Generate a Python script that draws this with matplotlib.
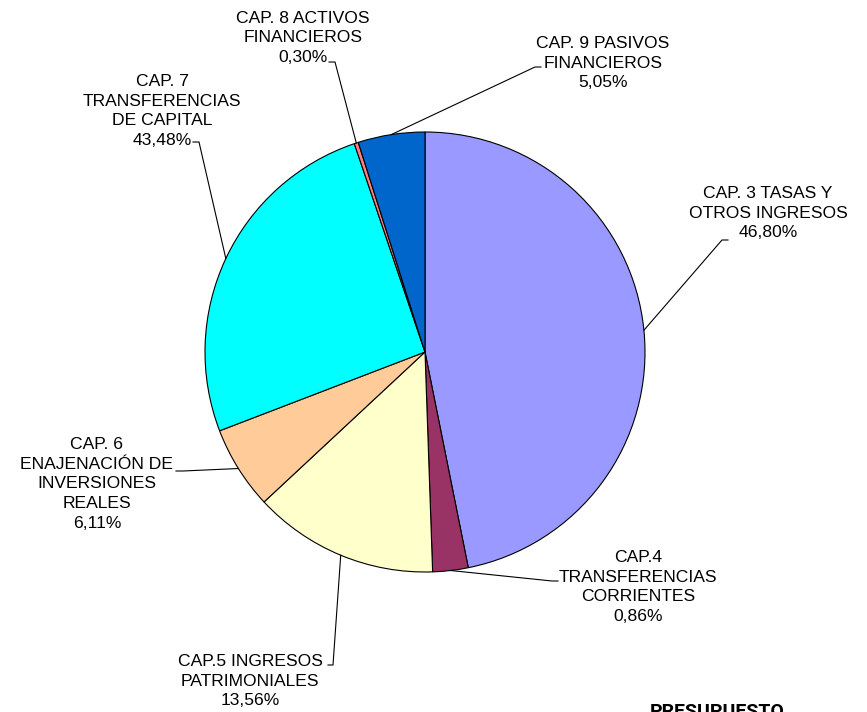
import numpy as np
import matplotlib.pyplot as plt

plt.rcParams['font.family'] = ['Liberation Sans', 'DejaVu Sans']

# etiquetas (texto tal como aparece) y tamaño visual de cada porción
etiquetas = [
    "CAP. 3 TASAS Y\nOTROS INGRESOS\n46,80%",
    "CAP.4\nTRANSFERENCIAS\nCORRIENTES\n0,86%",
    "CAP.5 INGRESOS\nPATRIMONIALES\n13,56%",
    "CAP. 6\nENAJENACIÓN DE\nINVERSIONES\nREALES\n6,11%",
    "CAP. 7\nTRANSFERENCIAS\nDE CAPITAL\n43,48%",
    "CAP. 8 ACTIVOS\nFINANCIEROS\n0,30%",
    "CAP. 9 PASIVOS\nFINANCIEROS\n5,05%",
]
porciones = [46.8, 2.6, 13.6, 6.1, 25.6, 0.3, 4.9]
colores = ["#9999FF", "#993366", "#FFFFCC", "#FFCC99", "#00FFFF", "#FF8080", "#0066CC"]

W, H = 867, 712
centro = (425, H - 352)
radio = 220

# posiciones de texto y codo de la línea guía (en píxeles, y hacia abajo)
pos_texto = [(768, 213), (638, 587), (250, 681), (97, 484), (162, 111), (303, 38), (603, 63)]
codos = [((722, 240), (728, 240)),
         ((552, 581), (558, 581)),
         ((333, 665), (328, 665)),
         ((183, 471), (176, 471)),
         ((199, 142), (193, 142)),
         ((335, 62), (329, 62)),
         ((535, 67), (541, 67))]

fig = plt.figure(figsize=(W / 100, H / 100), dpi=100)
ax = fig.add_axes([0, 0, 1, 1])

wedges, _ = ax.pie(porciones, colors=colores, startangle=90, counterclock=False,
                   center=centro, radius=radio,
                   wedgeprops=dict(edgecolor="black", linewidth=0.8))

for w, txt, (tx, ty), (c1, c2) in zip(wedges, etiquetas, pos_texto, codos):
    ang = np.deg2rad((w.theta1 + w.theta2) / 2)
    ex = centro[0] + radio * np.cos(ang)
    ey = centro[1] + radio * np.sin(ang)
    ax.plot([ex, c1[0], c2[0]], [ey, H - c1[1], H - c2[1]], color="black", lw=0.8)
    ax.text(tx, H - ty, txt, ha="center", va="center", fontsize=12.6, linespacing=1.38)

ax.text(650, H - 703, "PRESUPUESTO", ha="left", va="top", fontsize=14,
        fontweight="bold", family=["Roboto", "DejaVu Sans"])

ax.set_xlim(0, W)
ax.set_ylim(0, H)
ax.axis("off")

fig.savefig("out.png", dpi=100)
